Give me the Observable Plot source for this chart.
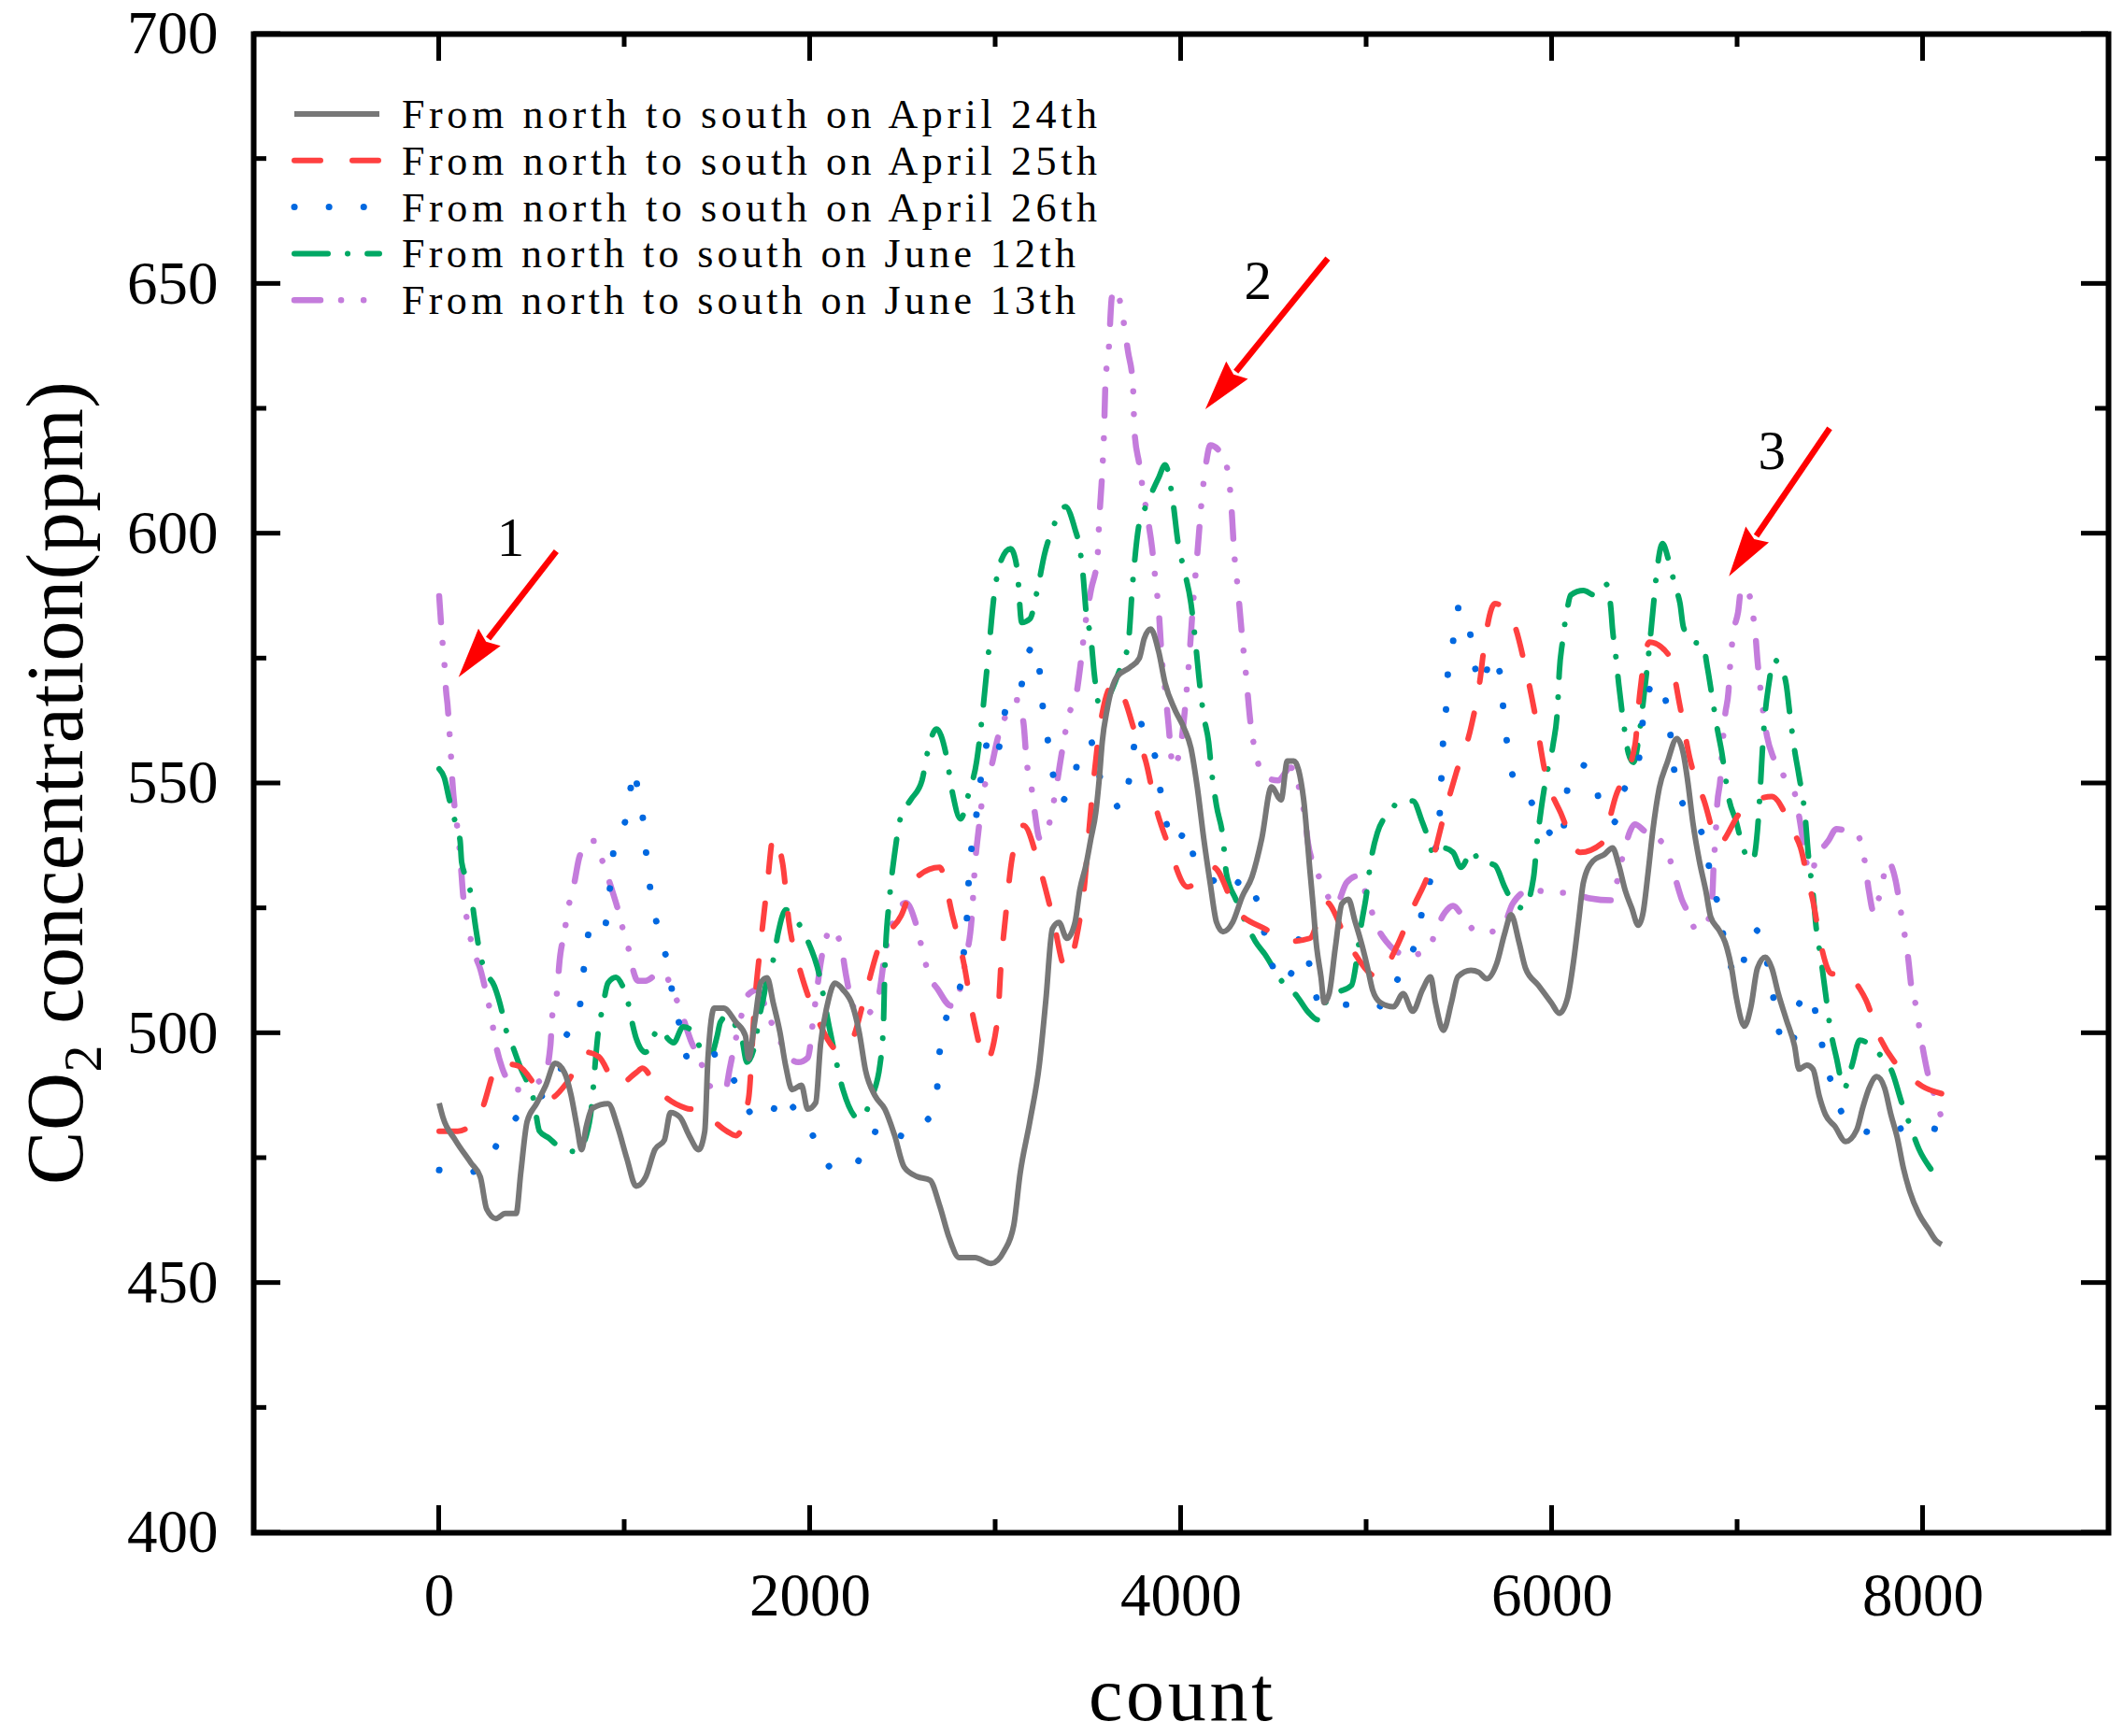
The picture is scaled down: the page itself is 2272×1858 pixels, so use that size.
<!DOCTYPE html>
<html>
<head>
<meta charset="utf-8">
<script src="https://cdn.jsdelivr.net/npm/d3@7"></script>
<script src="https://cdn.jsdelivr.net/npm/@observablehq/plot@0.6"></script>
<style>
  html, body { margin: 0; padding: 0; background: #fff; }
  #chart { width: 2272px; height: 1858px; }
</style>
</head>
<body>
<div id="chart"></div>
<script>
// CO2 along the route: [count, ppm]
const apr24 = [[0,486],[20,483.2],[87,478.6],[172,474],[222,471.2],[256,464.8],[306,462.9],[356,463.9],[415,463.9],[440,472.1],[474,482.3],[525,485.9],[575,489.6],[625,494],[676,492.1],[710,487.8],[743,481.3],[768,476.7],[793,481.3],[827,485],[911,485.9],[962,481.3],[1012,474.9],[1062,469.4],[1113,471.2],[1163,476.7],[1214,478.6],[1247,484.1],[1298,483.2],[1348,479.5],[1399,476.7],[1432,480.4],[1449,494.9],[1483,505],[1533,505],[1600,502.2],[1651,499.5],[1668,494.9],[1701,502.2],[1735,510.2],[1768,511.1],[1802,505.9],[1836,500.4],[1869,493.3],[1903,488.7],[1953,489.6],[1987,484.8],[2030,486.1],[2056,497.7],[2091,505.4],[2134,510],[2177,508.7],[2230,505.4],[2264,500.3],[2299,492.5],[2351,487.4],[2403,484.8],[2455,479.6],[2507,473.2],[2577,471.3],[2646,470.6],[2698,465.5],[2750,459],[2803,455.1],[2889,455.1],[2976,453.9],[3046,456.4],[3098,461.6],[3132,471.9],[3184,482.2],[3236,493.8],[3271,506.7],[3306,520.9],[3341,522.2],[3384,519],[3428,522.2],[3454,528.7],[3488,533.8],[3514,539],[3540,544.2],[3558,550.6],[3575,558.4],[3601,564.8],[3653,571.3],[3723,573.2],[3775,575.1],[3801,579],[3836,580.9],[3879,576.4],[3914,570],[3966,564.8],[4018,560.9],[4053,557.1],[4087,549.3],[4122,539],[4157,530],[4191,522.2],[4226,520.3],[4278,522.2],[4330,527.4],[4382,531.3],[4435,539],[4487,549.3],[4539,546.7],[4573,554.5],[4608,554.5],[4660,547],[4694,532.8],[4711,525.9],[4728,518.2],[4754,511.3],[4772,506.1],[4798,507.9],[4832,517.3],[4867,525.9],[4902,526.8],[4937,522.5],[4971,518.2],[5006,513],[5032,508.7],[5076,506.1],[5145,505.3],[5197,507.9],[5249,504.4],[5301,508.7],[5345,511.3],[5371,506.1],[5414,500.6],[5457,506.1],[5492,511.3],[5562,512.6],[5605,512.2],[5648,510.9],[5701,513.9],[5744,519.9],[5779,523.7],[5822,518.2],[5857,513],[5926,509.6],[5996,506.1],[6039,504],[6083,507],[6117,514.7],[6143,522.5],[6169,530.2],[6221,534.5],[6282,535.8],[6326,537.1],[6360,533.6],[6395,528.5],[6430,525],[6465,521.6],[6491,524.2],[6517,531.9],[6543,540.5],[6578,549.1],[6621,554.2],[6673,559],[6708,555.9],[6733,550],[6759,542.2],[6794,534.5],[6829,528.5],[6855,523.3],[6899,520.7],[6933,518.2],[6968,513],[6994,507],[7037,501.4],[7072,505.3],[7107,513],[7150,515.2],[7185,513],[7220,507.9],[7263,502.7],[7307,497.5],[7331,492.8],[7373,493.6],[7407,492.8],[7440,487.5],[7474,483.7],[7524,481.4],[7583,478.3],[7642,480.6],[7676,485.2],[7709,489],[7751,491.3],[7793,489],[7827,483.7],[7861,479.1],[7894,473],[7928,468.4],[7978,463.8],[8029,460.8],[8070,458.5],[8100,457.7]]

const apr25 = [[0,480.4],[100,480.4],[222,484.1],[323,494],[424,493.5],[592,486.9],[693,490.3],[793,496.2],[861,495.3],[962,489.6],[1062,492.1],[1096,493],[1180,488.7],[1331,485],[1399,484.6],[1550,480.4],[1600,479.5],[1668,486.9],[1701,505.9],[1735,518.5],[1768,529.4],[1802,539.4],[1852,533.9],[1886,522.2],[1936,513.9],[1970,509.6],[2039,502.9],[2160,496.4],[2230,499],[2299,508],[2368,517],[2490,523.5],[2577,531.3],[2698,533.2],[2768,523.5],[2829,513.9],[2881,502.9],[2950,494.5],[3011,502.9],[3028,513.2],[3054,523.5],[3089,535.1],[3150,541.6],[3237,533.2],[3306,523.5],[3376,513.2],[3445,520.9],[3480,530],[3506,541.6],[3532,551.9],[3566,562.2],[3636,570],[3688,567.4],[3757,559.6],[3809,554.5],[3862,545.5],[3931,537.7],[4035,529.3],[4174,533.2],[4296,524.8],[4452,520.9],[4591,518.4],[4694,519],[4780,526.3],[4902,518],[5058,511.3],[5162,517.3],[5249,525],[5345,533.2],[5414,543.1],[5483,552.1],[5562,561.1],[5614,571.4],[5631,576.6],[5692,586],[5787,582.6],[5857,573.1],[5909,563.7],[5961,552.5],[6048,544],[6152,536.2],[6265,537.9],[6343,547.4],[6447,557.7],[6473,568],[6525,578.3],[6629,575.7],[6690,565.4],[6742,555.1],[6820,546.5],[6899,538],[7011,544],[7185,547.4],[7298,540.5],[7340,537.1],[7382,530.2],[7407,526.4],[7440,519.5],[7457,516.5],[7508,511.9],[7558,512.3],[7659,508.9],[7693,506.6],[7760,499.7],[7844,494.4],[7894,492.5],[7995,489.4],[8100,487.9]]

const apr26 = [[0,472.6],[155,472.1],[264,474.4],[323,478.6],[407,482.7],[482,485.9],[566,487.8],[650,491.6],[676,498.6],[743,502.6],[768,508.1],[785,514.8],[819,521.3],[886,519.9],[911,526],[928,531.6],[945,538],[1004,542.6],[1029,547.9],[1046,552.9],[1079,546.9],[1096,543.7],[1113,537.1],[1130,531.2],[1155,525],[1197,519],[1239,512.5],[1264,506.4],[1306,500.4],[1348,494],[1415,494.9],[1499,495.8],[1575,491.6],[1634,487.3],[1710,482.7],[1785,483.2],[1836,487.8],[1920,484.6],[1987,481],[2056,477.1],[2108,473.2],[2212,472.6],[2290,476.4],[2342,480.3],[2455,477.7],[2525,481.6],[2612,482.2],[2681,486.1],[2690,493.2],[2716,499.7],[2750,505.5],[2820,510.6],[2829,516.4],[2846,523.5],[2855,530.6],[2872,537.7],[2898,544.1],[2933,554.5],[2976,559.6],[3011,556.4],[3037,561.6],[3063,566.1],[3132,568.7],[3167,575.1],[3211,577.7],[3237,572.5],[3254,565.4],[3280,559],[3306,552.5],[3358,546.1],[3376,547.4],[3428,551.9],[3462,557.7],[3514,558.4],[3549,552.5],[3618,548.7],[3671,544.8],[3723,551.3],[3775,562.9],[3801,559.6],[3862,555.1],[3888,548.7],[3966,537.7],[4035,540.9],[4070,535.1],[4174,530.6],[4244,528],[4348,531.3],[4417,525.4],[4452,519.6],[4539,510],[4608,513.2],[4643,519.6],[4690,514],[4711,510.4],[4746,505.7],[4850,505.7],[4928,505.7],[5015,506.1],[5093,505.3],[5162,510.4],[5275,519.9],[5310,526.3],[5353,532.3],[5379,538.8],[5397,545.6],[5405,552.5],[5414,559.4],[5431,566.3],[5440,573.1],[5466,578.3],[5483,585.1],[5536,585.1],[5562,579.1],[5588,572.7],[5631,569.7],[5666,575.7],[5718,572.3],[5735,565.8],[5753,559.4],[5779,552.5],[5857,548.2],[5918,544.4],[5987,540.1],[6048,538],[6091,550.8],[6152,553.8],[6230,550.8],[6265,544.4],[6334,542.2],[6378,547.8],[6465,554.2],[6499,565.4],[6560,570.6],[6612,566.7],[6638,559.8],[6656,553.4],[6690,547.4],[6768,542.6],[6829,537.5],[6855,531.1],[6899,525],[6924,519.4],[6968,513],[7011,510.9],[7046,516.9],[7098,520.7],[7150,515.6],[7185,509.2],[7211,502.7],[7263,496.7],[7306,499.3],[7331,505.8],[7390,508.1],[7432,502],[7466,495.9],[7508,489.8],[7558,484.4],[7634,481],[7785,479.9],[7936,481.4],[8100,480.6]]

const jun12 = [[0,552.9],[28,551.1],[54,546.9],[87,542.2],[113,538.5],[121,534.3],[163,529.4],[180,525.6],[197,521.1],[222,515.6],[247,512.5],[298,509.4],[340,504.1],[356,501.3],[398,497.2],[440,493],[474,490.3],[508,486.9],[541,480.4],[592,479],[650,477.2],[743,476.3],[793,479.5],[827,487.3],[836,491.6],[861,501.3],[878,504.5],[911,510.1],[953,511.2],[987,509.6],[1012,507.2],[1037,502.7],[1062,499],[1113,496.2],[1163,499.9],[1197,500.9],[1231,499],[1264,498.1],[1315,501.3],[1365,500.4],[1415,496.7],[1466,495.8],[1499,499.5],[1516,502.2],[1558,503.6],[1600,501.3],[1634,498.5],[1659,494.2],[1701,497.6],[1726,503.2],[1752,507.8],[1768,511.2],[1802,514.8],[1827,520],[1869,524.7],[1920,522.8],[1953,521.1],[1987,518.5],[2039,513.2],[2108,500.3],[2177,488.7],[2264,482.9],[2334,487.4],[2377,493.8],[2395,501.6],[2403,513.2],[2429,527.4],[2455,535.8],[2490,543.5],[2542,546.7],[2603,550.6],[2638,557.1],[2681,560.9],[2733,555.8],[2768,548],[2811,542.9],[2855,548],[2898,554.5],[2924,562.2],[2959,575.1],[2993,588],[3028,594.5],[3080,597],[3115,593.2],[3141,582.2],[3184,582.9],[3228,589.3],[3263,595.8],[3306,600.9],[3376,605.4],[3428,600.9],[3454,597],[3471,591.9],[3488,584.2],[3514,579],[3532,571.9],[3566,564.8],[3618,568],[3679,573.8],[3714,577.7],[3740,590.6],[3775,602.2],[3809,605.4],[3879,611.2],[3914,613.8],[3957,606.1],[3983,598.3],[4018,592.5],[4053,586.1],[4079,577.7],[4096,571.3],[4122,563.5],[4148,558.4],[4166,551.9],[4191,545.5],[4226,539],[4244,532],[4296,526.7],[4348,522.2],[4400,518.4],[4452,515.8],[4539,510.6],[4625,507.4],[4686,504.2],[4737,502.7],[4772,505.7],[4832,507.9],[4919,509.6],[4945,514.3],[4971,521.6],[4997,527.2],[5023,534.5],[5058,540.1],[5128,544.4],[5180,546.5],[5249,546.5],[5301,542.2],[5327,539.6],[5362,535.8],[5414,537.1],[5466,536.2],[5509,533.2],[5570,536.6],[5605,534.5],[5692,533.6],[5744,529.3],[5779,526.8],[5848,525],[5900,531.1],[5918,537.9],[5944,545.6],[5970,551.6],[6005,557.7],[6030,565.4],[6039,572.3],[6056,578.3],[6083,585.1],[6100,587.7],[6169,588.6],[6230,587.7],[6291,589.9],[6317,585.1],[6326,580.9],[6343,575.7],[6360,569.7],[6386,562],[6412,556],[6439,554.2],[6473,560.7],[6499,568.8],[6525,577.4],[6543,584.3],[6569,593.7],[6595,598],[6629,594.6],[6664,589.4],[6690,586],[6708,581.3],[6760,578.3],[6812,577.9],[6838,573.1],[6864,567.1],[6890,561.1],[6916,556],[6933,551.7],[6951,547.4],[6994,542.2],[7029,537.1],[7081,534.5],[7107,540.5],[7124,549.9],[7133,556],[7150,564.5],[7168,569.7],[7194,574.8],[7228,573.6],[7263,569.7],[7280,564.5],[7307,556.8],[7331,551.6],[7365,543.2],[7382,535.6],[7407,527.9],[7424,521.1],[7449,515],[7474,508.1],[7499,501.2],[7533,495.1],[7575,489],[7617,493.6],[7659,498.6],[7751,496.3],[7835,492.1],[7886,486],[7928,481.8],[7978,476.8],[8046,472.6],[8100,470]]

const jun13 = [[0,587.5],[17,578.7],[28,574.1],[37,568.6],[45,565.8],[54,561.2],[62,556.6],[71,550.5],[87,544],[104,539.4],[118,533],[129,527.7],[146,523.6],[172,518.5],[188,516.2],[222,512.8],[247,509.1],[281,503.2],[306,497.6],[340,493],[390,489.6],[424,488.7],[491,489.6],[566,491.2],[600,497.6],[609,503.2],[634,507.8],[650,514.8],[676,520.3],[693,524.5],[726,529.6],[760,535.7],[836,538.5],[877,534.8],[928,529.1],[962,525],[995,520.3],[1012,518.5],[1037,513.9],[1071,510.5],[1113,510.5],[1163,511.5],[1214,511.9],[1256,508.7],[1298,505],[1323,502.2],[1357,498.5],[1399,495.2],[1424,492.9],[1466,489.2],[1542,488.7],[1567,493],[1592,497.6],[1634,504.1],[1668,507.8],[1718,508.7],[1752,505.9],[1785,502.7],[1836,498.6],[1869,496.2],[1936,494.2],[1987,495.1],[2021,504.2],[2065,515.8],[2117,521],[2169,517],[2195,511.3],[2230,505.5],[2290,503.5],[2368,507.4],[2403,515.8],[2447,522.2],[2516,526.1],[2568,522.2],[2603,517],[2638,511.9],[2690,508.7],[2759,505.5],[2811,509.3],[2837,514.5],[2872,523.5],[2889,533.8],[2907,540.3],[2933,548],[2976,553.2],[3011,559],[3054,563.5],[3115,566.7],[3150,562.2],[3167,554.5],[3193,549.3],[3211,544.2],[3237,539],[3280,540.9],[3315,546.7],[3358,556.4],[3393,563.5],[3436,568],[3462,575.1],[3480,580.9],[3514,588.7],[3549,595.1],[3558,602.2],[3575,612.5],[3584,619.6],[3592,630],[3610,637],[3627,647.4],[3653,648.7],[3679,644.8],[3714,636.4],[3740,630],[3749,620.3],[3775,613.8],[3792,609.3],[3818,603.5],[3844,597],[3862,590.6],[3879,584.8],[3896,575.1],[3914,568.7],[3931,562.2],[3957,553.2],[4001,558.4],[4027,567.4],[4044,575.1],[4061,584.2],[4087,595.8],[4113,607.4],[4139,615.1],[4157,617.7],[4209,616.4],[4252,612.5],[4270,606.1],[4287,595.8],[4305,589.3],[4330,579],[4348,572.5],[4374,562.2],[4400,556.4],[4452,551.3],[4522,550.6],[4591,553.2],[4643,548],[4668,543],[4685,537.9],[4728,532.8],[4772,528.9],[4832,525.5],[4893,530.2],[4954,531.5],[5006,526.8],[5058,521.2],[5110,518.2],[5180,516],[5232,515.6],[5336,516.9],[5371,520.3],[5423,524.2],[5466,525.5],[5527,522.9],[5596,520.3],[5666,520.3],[5744,522],[5787,525.9],[5874,528.5],[5926,528.5],[6004,528.1],[6091,528.1],[6204,527],[6317,526.6],[6352,530.6],[6386,536.2],[6447,541.8],[6499,540.5],[6569,539.2],[6638,534.5],[6664,531.1],[6699,526.8],[6733,524.2],[6777,520.7],[6829,521.6],[6864,527.6],[6872,534.5],[6881,538.8],[6890,545.6],[6907,550.8],[6916,556],[6933,563.7],[6951,568.4],[6959,573.1],[6977,580],[7003,584.3],[7020,589],[7063,587.7],[7081,584.3],[7098,579.1],[7107,574.8],[7124,568.8],[7142,563.3],[7159,559.4],[7194,555.1],[7246,551.7],[7307,548.2],[7331,543.6],[7356,537.9],[7390,531.8],[7432,535.6],[7491,538.6],[7533,540.9],[7583,540.5],[7651,539.4],[7684,534.8],[7709,528.3],[7735,524.1],[7777,529.5],[7810,534.4],[7852,530.6],[7878,524.9],[7903,519.2],[7920,515],[7936,509.6],[7962,505.4],[7978,501.6],[8004,495.9],[8037,490.2],[8071,486.7],[8100,482.9]]

const seriesNames = ["From north to south on April 24th", "From north to south on April 25th", "From north to south on April 26th", "From north to south on June 12th", "From north to south on June 13th"]
const seriesData = [apr24, apr25, apr26, jun12, jun13]

// axis ticks
const xMajorTicks = [0, 2000, 4000, 6000, 8000]
const xMinorTicks = [1000, 3000, 5000, 7000]
const yMajorTicks = [400, 450, 500, 550, 600, 650, 700]
const yMinorTicks = [425, 475, 525, 575, 625, 675]

// the three red arrows: label, tail (count, ppm), tip (count, ppm), label position
const arrowLabels = ["1", "2", "3"]
const arrowTails = [[634, 596.4], [4793, 655], [7499, 621]]
const arrowTips = [[107, 571.2], [4133, 624.8], [6956, 591.4]]
const arrowLabelPos = [[388, 595.5], [4417, 646.9], [7188, 612.9]]

// line looks
const colors = ["#777777", "#ff4040", "#0068e0", "#00a864", "#c47cdc"]
const dashes = ["none", "28,34", "0.1,37", "36,21,0.1,21", "28,22,0.1,24,0.1,24"]
const widths = [6, 6, 7, 6, 6.5]

const serif = "'Liberation Serif', 'Times New Roman', serif"

let chart = Plot.plot({
  width: 2272,
  height: 1858,
  marginLeft: 271,
  marginRight: 16,
  marginTop: 36,
  marginBottom: 218,
  x: { domain: [-1000, 9000], axis: null },
  y: { domain: [400, 700], axis: null },
  style: { background: "white", overflow: "visible", fontFamily: serif },
  marks: [
    // draw order like the original: purple first, gray on top
    ...[4, 3, 2, 1, 0].map(i => Plot.line(seriesData[i], {
      x: d => d[0],
      y: d => d[1],
      stroke: colors[i],
      strokeWidth: widths[i],
      strokeDasharray: dashes[i],
      strokeLinecap: i === 0 ? "butt" : "round",
      strokeLinejoin: "round",
      curve: "monotone-x"
    })),
    Plot.text(xMajorTicks, { x: d => d, y: 400, dy: 68, text: d => String(d), fontSize: 65, fontFamily: serif, fill: "black" }),
    Plot.text(yMajorTicks, { x: -1000, y: d => d, dx: -38, textAnchor: "end", text: d => String(d), fontSize: 65, fontFamily: serif, fill: "black" }),
    Plot.frame({ stroke: "black", strokeWidth: 6 })
  ]
})

d3.select('#chart').append(() => chart)

// scales of the plot
function getScale(name) {
  const s = chart.scale(name)
  if (s && typeof s.apply === "function") return v => s.apply(v)
  const f = d3.scaleLinear().domain(s.domain).range(s.range)
  return v => f(v)
}
const sx = getScale("x")
const sy = getScale("y")
const svg = d3.select(chart)
const [x0, x1] = [sx(-1000), sx(9000)]
const [y0, y1] = [sy(400), sy(700)]

// inward ticks on all four sides
const g = svg.append("g").attr("stroke", "black").attr("stroke-width", 5)
const tickLen = { major: 29, minor: 14 }
for (const [ticks, len] of [[xMajorTicks, tickLen.major], [xMinorTicks, tickLen.minor]]) {
  for (const t of ticks) {
    g.append("line").attr("x1", sx(t)).attr("x2", sx(t)).attr("y1", y0).attr("y2", y0 - len)
    g.append("line").attr("x1", sx(t)).attr("x2", sx(t)).attr("y1", y1).attr("y2", y1 + len)
  }
}
for (const [ticks, len] of [[yMajorTicks, tickLen.major], [yMinorTicks, tickLen.minor]]) {
  for (const t of ticks) {
    g.append("line").attr("y1", sy(t)).attr("y2", sy(t)).attr("x1", x0).attr("x2", x0 + len)
    g.append("line").attr("y1", sy(t)).attr("y2", sy(t)).attr("x1", x1).attr("x2", x1 - len)
  }
}

// axis titles
const ylab = svg.append("text")
  .attr("transform", `translate(88,${(y0 + y1) / 2}) rotate(-90)`)
  .attr("text-anchor", "middle")
  .attr("font-family", serif)
  .attr("font-size", 86)
  .attr("fill", "black")
  .attr("textLength", 860)
  .attr("lengthAdjust", "spacing")
ylab.append("tspan").text("CO")
ylab.append("tspan").attr("font-size", 58).attr("dy", 20).text("2")
ylab.append("tspan").attr("dy", -20).text(" concentration(ppm)")

svg.append("text")
  .attr("x", (x0 + x1) / 2).attr("y", 1841)
  .attr("text-anchor", "middle")
  .attr("font-family", serif)
  .attr("font-size", 82)
  .attr("fill", "black")
  .attr("textLength", 197)
  .attr("lengthAdjust", "spacing")
  .text("count")

// red arrows with filled heads
const ag = svg.append("g")
arrowLabels.forEach((lab, i) => {
  const tx = sx(arrowTails[i][0]), ty = sy(arrowTails[i][1])
  const px = sx(arrowTips[i][0]), py = sy(arrowTips[i][1])
  const len = Math.hypot(px - tx, py - ty)
  const ux = (px - tx) / len, uy = (py - ty) / len
  const headL = 54, headW = 15
  const bx = px - ux * headL, by = py - uy * headL
  ag.append("line").attr("x1", tx).attr("y1", ty).attr("x2", bx + ux * 2).attr("y2", by + uy * 2)
    .attr("stroke", "#ff0000").attr("stroke-width", 6.5)
  ag.append("polygon")
    .attr("points", [[px, py], [bx - uy * headW, by + ux * headW], [bx + ux * 6, by + uy * 6], [bx + uy * headW, by - ux * headW]].map(p => p.join(",")).join(" "))
    .attr("fill", "#ff0000")
  ag.append("text")
    .attr("x", sx(arrowLabelPos[i][0])).attr("y", sy(arrowLabelPos[i][1]))
    .attr("text-anchor", "middle")
    .attr("font-family", serif)
    .attr("font-size", 59)
    .attr("fill", "black")
    .text(lab)
})

// legend inside the frame, top left
const lg = svg.append("g")
seriesNames.forEach((name, i) => {
  const cy = 122 + i * 49.8
  lg.append("line")
    .attr("x1", 315).attr("x2", 406).attr("y1", cy).attr("y2", cy)
    .attr("stroke", colors[i])
    .attr("stroke-width", widths[i])
    .attr("stroke-dasharray", dashes[i])
    .attr("stroke-linecap", i === 0 ? "butt" : "round")
  lg.append("text")
    .attr("x", 430).attr("y", cy + 15)
    .attr("text-anchor", "start")
    .attr("font-family", serif)
    .attr("font-size", 44)
    .attr("fill", "black")
    .attr("textLength", name.includes("April") ? 744 : 721)
    .attr("lengthAdjust", "spacing")
    .text(name)
})
</script>
</body>
</html>
